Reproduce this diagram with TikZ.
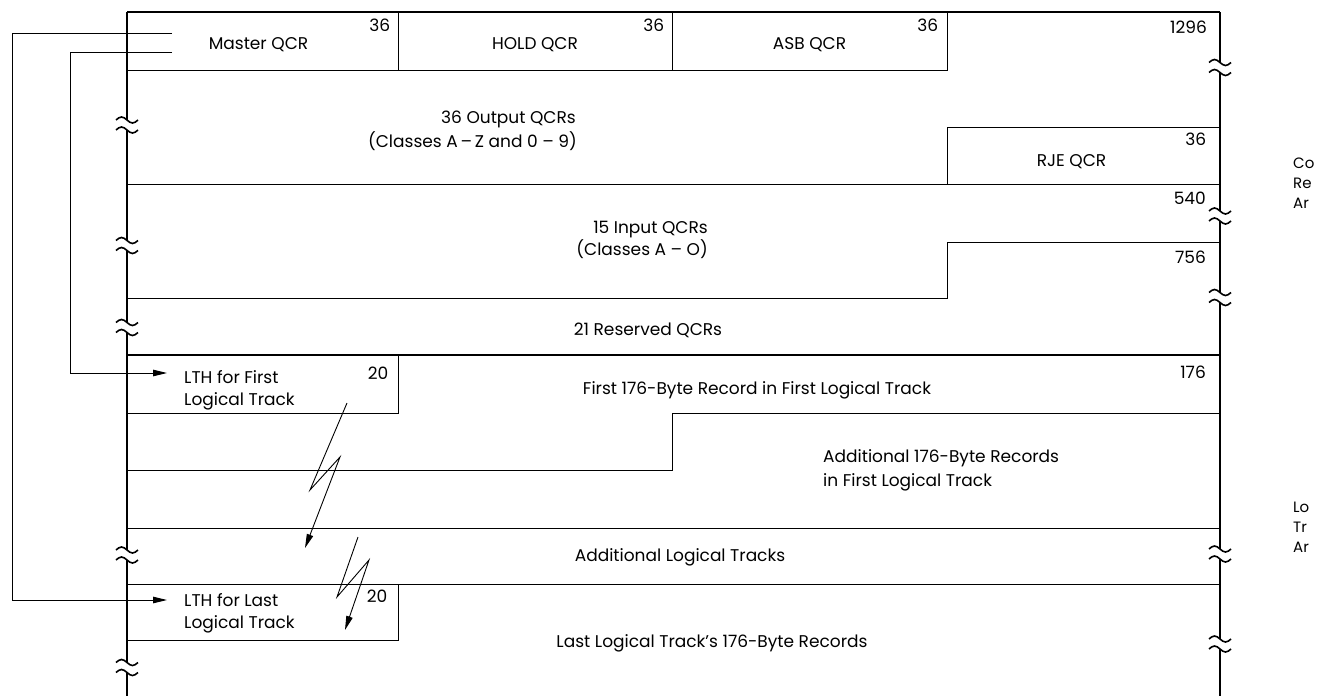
\documentclass[tikz,border=0pt]{standalone}
\usepackage{fontspec}
\setmainfont{Poppins}
\usetikzlibrary{arrows.meta, positioning, calc}

% break mark on a side line: x, y
\newcommand{\brkmark}[2]{%
  \fill[white] (#1-4,#2-5) rectangle (#1+4,#2+5);
  \draw[brk] (#1-11,#2-5) sin (#1-5.5,#2-8) cos (#1,#2-5) sin (#1+5.5,#2-2) cos (#1+11,#2-5);
  \draw[brk] (#1-11,#2+5) sin (#1-5.5,#2+2) cos (#1,#2+5) sin (#1+5.5,#2+8) cos (#1+11,#2+5);
}

\begin{document}
\begin{tikzpicture}[
    x=1pt, y=-1pt,
    frame/.style={line width=2.2pt},
    rule/.style={line width=0.8pt},
    heavy/.style={line width=2.6pt},
    brk/.style={line width=1.6pt},
    qbox/.style={rectangle, draw, line width=0.8pt, inner sep=0pt},
    txt/.style={font=\fontsize{17}{22}\selectfont, inner sep=0pt},
    num/.style={txt, anchor=base east},
    side/.style={font=\fontsize{15}{20}\selectfont, inner sep=0pt, anchor=base west},
    arrow/.style={-{Triangle[length=14pt,width=6.5pt]}, line width=0.9pt}
]
\useasboundingbox (0,0) rectangle (1325,696);

% Queue control records
\node[qbox, minimum width=271pt, minimum height=58pt] (master) at (262.5,41) {};
\node[qbox, minimum width=274pt, minimum height=58pt] (hold) at (535,41) {};
\node[qbox, minimum width=275pt, minimum height=58pt] (asb) at (809.5,41) {};
\node[qbox, minimum width=273pt, minimum height=57pt] (rje) at (1083.5,155.5) {};

\node[txt, anchor=base] (mastert) at ([yshift=-8pt,xshift=-4pt]master.center) {Master QCR};
\node[txt, anchor=base] (holdt) at ([yshift=-8pt]hold.center) {HOLD QCR};
\node[txt, anchor=base] (asbt) at ([yshift=-8pt]asb.center) {ASB QCR};
\node[txt, anchor=base] (rjet) at ([yshift=-10.5pt,xshift=-12pt]rje.center) {RJE QCR};

\node[num] (masterl) at ([xshift=-8pt,yshift=-20pt]master.north east) {36};
\node[num] (holdl) at ([xshift=-8pt,yshift=-20pt]hold.north east) {36};
\node[num] (asbl) at ([xshift=-9pt,yshift=-20pt]asb.north east) {36};
\node[num] (rjel) at ([xshift=-14pt,yshift=-19pt]rje.north east) {36};

% Output, input and reserved QCRs
\draw[rule] (127,184) -- (1220,184);
\draw[rule] (127,298) -- (947,298) -- (947,242) -- (1220,242);

\node[num] (total) at (1207,33) {1296};
\node[num] (outn) at (1206,204) {540};
\node[num] (inn) at (1206,263) {756};

\node[txt, anchor=base east] (outa) at (576,123) {36 Output QCRs};
\node[txt, anchor=base east] (outb) at (577,147) {(Classes A\,--\,Z and 0 -- 9)};
\node[txt, anchor=base east] (ina) at (708,233) {15 Input QCRs};
\node[txt, anchor=base east] (inb) at (708,255) {(Classes A -- O)};
\node[txt, anchor=base] (resv) at (648,335) {21 Reserved QCRs};

% Logical tracks
\draw[heavy] (127,355) -- (1220,355);
\node[qbox, minimum width=271pt, minimum height=58pt] (lthfirst) at (262.5,384) {};
\node[qbox, minimum width=271pt, minimum height=56pt] (lthlast) at (262.5,612) {};
\draw[rule] (127,470) -- (672,470) -- (672,413) -- (1220,413);
\draw[rule] (127,528) -- (1220,528);
\draw[rule] (127,584) -- (1220,584);

\node[txt, anchor=base west] (lthfa) at (184,383) {LTH for First};
\node[txt, anchor=base west] (lthfb) at (184,405) {Logical Track};
\node[txt, anchor=base west] (lthla) at (184,606) {LTH for Last};
\node[txt, anchor=base west] (lthlb) at (184,628) {Logical Track};
\node[num] (lthfn) at ([xshift=-10pt,yshift=-25pt]lthfirst.north east) {20};
\node[num] (lthln) at ([xshift=-11pt,yshift=-19pt]lthlast.north east) {20};
\node[num] (recn) at (1206,378) {176};

\node[txt, anchor=base] (rec1) at (757,394) {First 176-Byte Record in First Logical Track};
\node[txt, anchor=base west] (reca) at (823,462) {Additional 176-Byte Records};
\node[txt, anchor=base west] (recb) at (823,486) {in First Logical Track};
\node[txt, anchor=base] (more) at (680,561) {Additional Logical Tracks};
\node[txt, anchor=base] (lastrec) at (712,647) {Last Logical Track's 176-Byte Records};

% Side labels, as far as the page shows them
\node[side] (ctla) at (1293,168) {Co};
\node[side] (ctlb) at (1293,188) {Re};
\node[side] (ctlc) at (1293,208) {Ar};
\node[side] (lga) at (1293,512) {Lo};
\node[side] (lgb) at (1293,532) {Tr};
\node[side] (lgc) at (1293,552) {Ar};

% Frame
\draw[line width=1.6pt] (127,12) -- (1220,12);
\draw[frame] (127,12) -- (127,696);
\draw[frame] (1220,12) -- (1220,696);
\foreach \y in {125,245.5,327.5,555,667.5} {\brkmark{127}{\y}}
\foreach \y in {67.5,216,297.5,554,644} {\brkmark{1220}{\y}}

% Pointers from the master QCR
\coordinate (mqa) at (172,33);
\coordinate (mqb) at (172,52);
\draw[arrow] (mqa) -- ++(-160,0) |- ([xshift=-17pt,yshift=6pt]lthla.base west);
\draw[arrow] (mqb) -- ++(-102,0) |- ([xshift=-17pt,yshift=10pt]lthfa.base west);

% Chains between logical tracks
\coordinate (zza) at (347,403);
\coordinate (zzb) at (305,548);
\coordinate (zzc) at (358,537);
\coordinate (zzd) at (345,630);
\draw[arrow] (zza) -- ++(-37,87) -- ++(30,-33) -- (zzb);
\draw[arrow] (zzc) -- ++(-21,60) -- ++(32,-37) -- (zzd);

\end{tikzpicture}
\end{document}
